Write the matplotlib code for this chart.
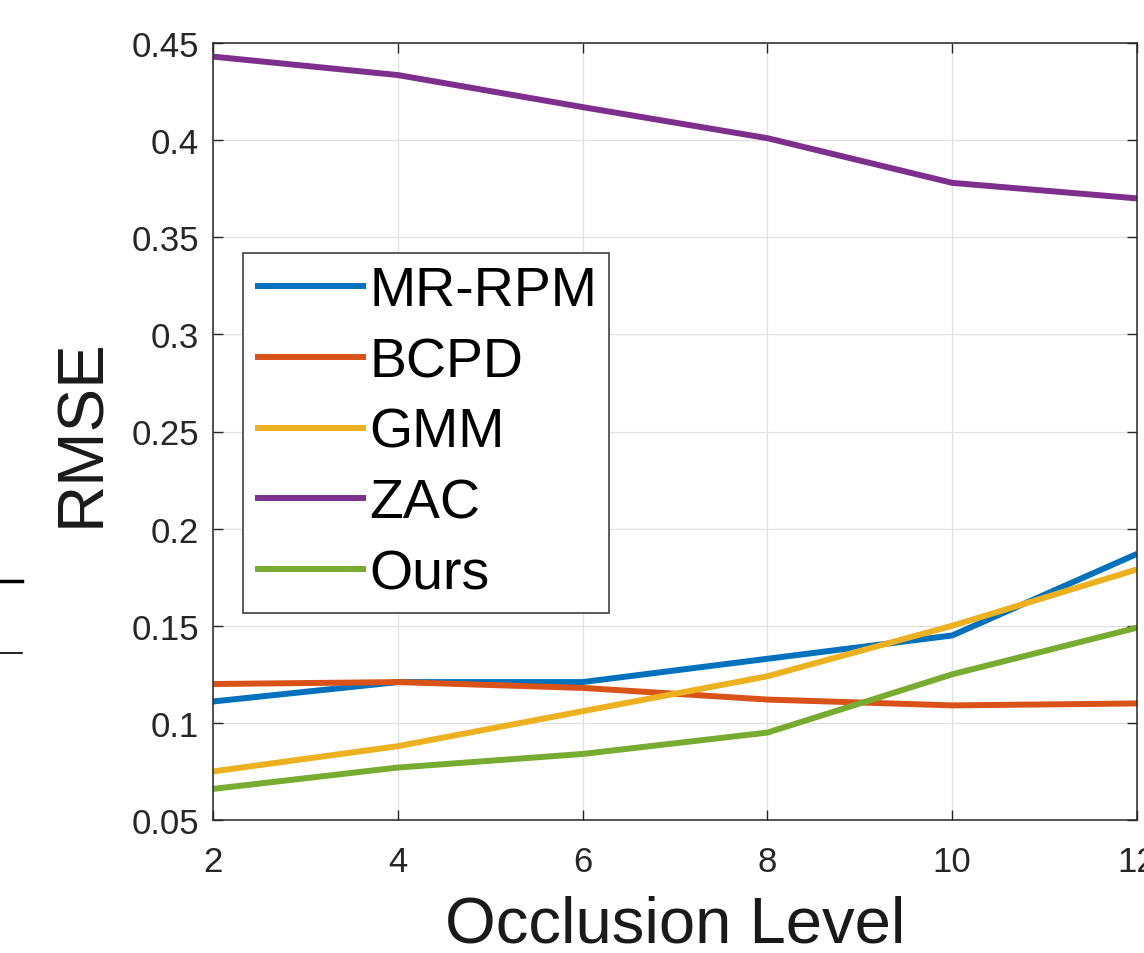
import numpy as np
import matplotlib.pyplot as plt
from matplotlib.lines import Line2D

# Datos
occlusion = [2, 4, 6, 8, 10, 12]
mr_rpm = [0.111, 0.121, 0.121, 0.133, 0.145, 0.187]
bcpd = [0.120, 0.121, 0.118, 0.112, 0.109, 0.110]
gmm = [0.075, 0.088, 0.106, 0.124, 0.150, 0.179]
zac = [0.443, 0.4335, 0.417, 0.401, 0.378, 0.370]
ours = [0.066, 0.077, 0.084, 0.095, 0.125, 0.149]

labels = ['MR-RPM', 'BCPD', 'GMM', 'ZAC', 'Ours']
colors = ['#0072BD', '#D95319', '#EDB120', '#7E2F8E', '#77AC30']

x_ticks = [2, 4, 6, 8, 10, 12]
y_ticks = [0.05, 0.1, 0.15, 0.2, 0.25, 0.3, 0.35, 0.4, 0.45]
y_tick_labels = ['0.05', '0.1', '0.15', '0.2', '0.25', '0.3', '0.35', '0.4', '0.45']

plt.rcParams['font.family'] = ['Liberation Sans', 'DejaVu Sans']

fig = plt.figure(figsize=(11.44, 9.54), dpi=100)
ax = fig.add_axes([213 / 1144, 1 - 821 / 954, 924 / 1144, 777 / 954])

for serie, lab, col in zip([mr_rpm, bcpd, gmm, zac, ours], labels, colors):
    ax.plot(occlusion, serie, color=col, lw=4.3, label=lab, solid_capstyle='butt')

ax.set_xlim(2, 12)
ax.set_ylim(0.05, 0.45)
ax.set_xticks(x_ticks)
ax.set_yticks(y_ticks)
ax.set_yticklabels(y_tick_labels)
ax.tick_params(direction='in', length=7, width=1, colors='#262626',
               labelsize=25, top=True, right=True, pad=10)
ax.tick_params(axis='x', pad=18)
for s in ax.spines.values():
    s.set_color('#262626')
    s.set_linewidth(1.1)
ax.grid(True, color='#e0e0e0', lw=0.9)
ax.set_axisbelow(True)

ax.set_xlabel('Occlusion Level', fontsize=47, color='#1a1a1a', labelpad=12)
ax.set_ylabel('RMSE', fontsize=47, color='#1a1a1a', labelpad=14)

leg = ax.legend(loc='upper left', bbox_to_anchor=(30 / 924, (821 - 254) / 777),
                borderaxespad=0, fontsize=40, handlelength=2.0,
                handletextpad=0.05, labelspacing=0.34, borderpad=0.22,
                fancybox=False, framealpha=1, edgecolor='#404040')
leg.get_frame().set_linewidth(1.2)

# restos de otra figura en el borde izquierdo
fig.add_artist(Line2D([0, 22 / 1144], [1 - 582 / 954] * 2, color='black', lw=2.5))
fig.add_artist(Line2D([0, 22 / 1144], [1 - 654 / 954] * 2, color='black', lw=1.2))

fig.savefig('out.png', dpi=100)
